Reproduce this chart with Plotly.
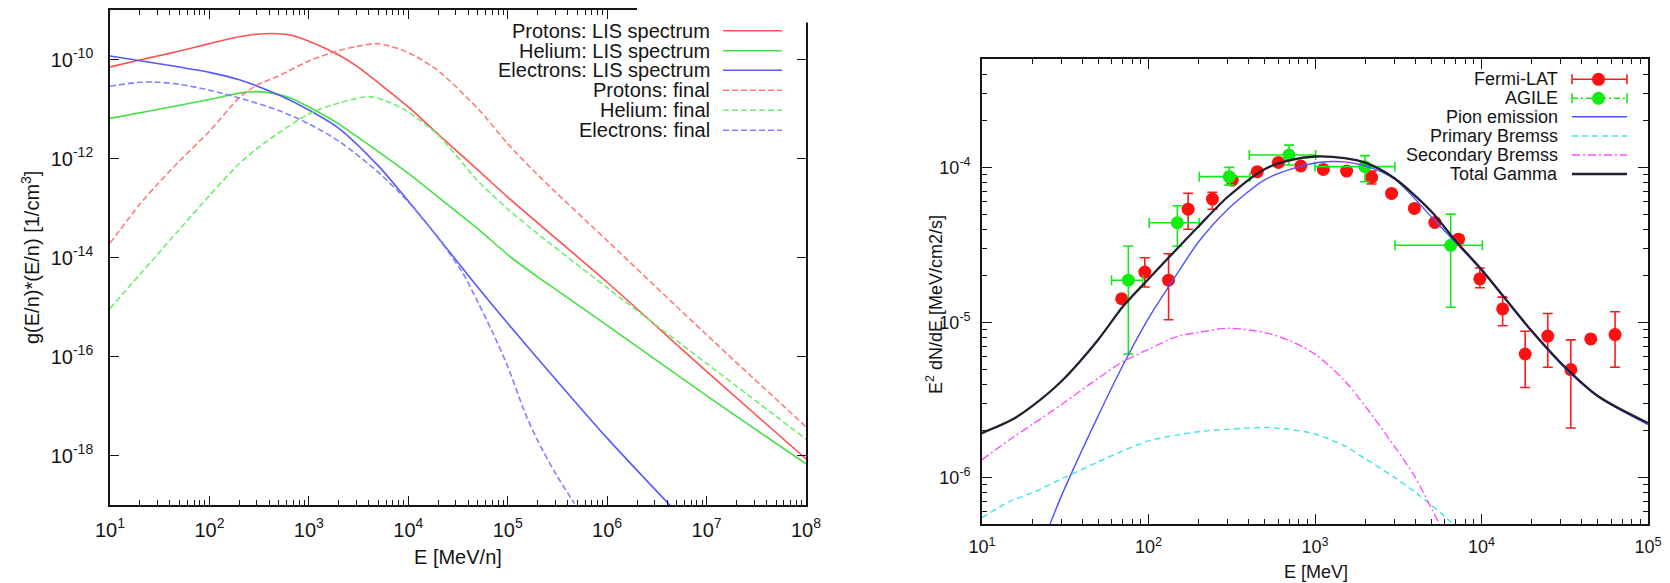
import plotly.graph_objects as go

W, H = 1670, 583

# ---------------- left panel: particle spectra, g(E/n)*(E/n) [1/cm^3] ----------------
E_p_lis = [10, 20, 30, 50, 100, 200, 300, 500, 700, 1e3, 2e3, 3e3, 5e3, 1e4, 2e4, 5e4, 1e5, 1e6, 1e7, 1e8]
g_p_lis = [7.08e-11, 9.77e-11, 1.175e-10, 1.48e-10, 2.09e-10, 2.88e-10, 3.24e-10, 3.31e-10, 3.02e-10,
           2.34e-10, 1.23e-10, 7.41e-11, 3.39e-11, 1.10e-11, 3.09e-12, 5.89e-13, 1.66e-13, 3.16e-15,
           5.01e-17, 8.51e-19]

E_he_lis = [10, 30, 100, 200, 300, 500, 700, 1e3, 2e3, 3e3, 5e3, 1e4, 2e4, 5e4, 1.1e5, 2e5, 1e6, 1e7, 1e8]
g_he_lis = [6.46e-12, 9.77e-12, 1.55e-11, 2.09e-11, 2.24e-11, 1.95e-11, 1.58e-11, 1.10e-11, 5.01e-12,
            2.82e-12, 1.38e-12, 5.01e-13, 1.66e-13, 3.80e-14, 9.77e-15, 4.07e-15, 4.27e-16, 1.62e-17,
            6.76e-19]

E_e_lis = [10, 30, 100, 200, 500, 1e3, 2e3, 5e3, 1e4, 2e4, 5e4, 1e5, 3e5, 1e6, 4.5e6]
g_e_lis = [1.175e-10, 8.32e-11, 5.50e-11, 3.89e-11, 1.91e-11, 9.55e-12, 4.07e-12, 7.08e-13, 1.38e-13,
           2.51e-14, 2.51e-15, 4.68e-16, 3.55e-17, 2.24e-18, 8.91e-20]

E_p_fin = [10, 20, 30, 50, 100, 200, 300, 500, 1e3, 2e3, 3e3, 5e3, 1e4, 2e4, 5e4, 1e5, 2e5, 1e6, 1e7, 1e8]
g_p_fin = [1.95e-14, 1.20e-13, 3.02e-13, 8.91e-13, 3.55e-12, 1.70e-11, 3.02e-11, 4.68e-11, 9.33e-11,
           1.51e-10, 1.82e-10, 2.09e-10, 1.38e-10, 5.89e-11, 1.02e-11, 2.00e-12, 4.68e-13, 2.19e-14,
           2.75e-16, 3.80e-18]

E_he_fin = [10, 20, 30, 50, 100, 200, 300, 500, 1e3, 2e3, 4e3, 6e3, 1e4, 2e4, 5e4, 1e5, 2e5, 1e6, 1e7, 1e8]
g_he_fin = [9.33e-16, 4.57e-15, 1.15e-14, 3.72e-14, 1.78e-13, 7.94e-13, 1.58e-12, 3.31e-12, 7.94e-12,
            1.32e-11, 1.78e-11, 1.45e-11, 8.71e-12, 2.95e-12, 3.55e-13, 9.55e-14, 3.02e-14, 2.45e-15,
            7.24e-17, 2.14e-18]

E_e_fin = [10, 20, 30, 50, 100, 200, 500, 1e3, 2e3, 5e3, 1e4, 2e4, 3.5e4, 5e4, 7e4, 1e5, 1.5e5, 2e5, 3e5, 4.7e5]
g_e_fin = [2.88e-11, 3.47e-11, 3.47e-11, 3.16e-11, 2.40e-11, 1.66e-11, 9.33e-12, 5.01e-12, 2.24e-12,
           5.25e-13, 1.32e-13, 2.45e-14, 5.01e-15, 1.26e-15, 3.16e-16, 6.31e-17, 7.08e-18, 2.0e-18,
           4.47e-19, 1.07e-19]

left_series = [
    ("Protons: LIS spectrum", E_p_lis, g_p_lis, "#ff5252", "solid"),
    ("Helium: LIS spectrum", E_he_lis, g_he_lis, "#45e045", "solid"),
    ("Electrons: LIS spectrum", E_e_lis, g_e_lis, "#5858ff", "solid"),
    ("Protons: final", E_p_fin, g_p_fin, "#ff7a7a", "6px,3px"),
    ("Helium: final", E_he_fin, g_he_fin, "#70ee70", "6px,3px"),
    ("Electrons: final", E_e_fin, g_e_fin, "#8080ff", "6px,3px"),
]

left_xtick_vals = [1e1, 1e2, 1e3, 1e4, 1e5, 1e6, 1e7, 1e8]
left_xtick_text = ["10<sup>1</sup>", "10<sup>2</sup>", "10<sup>3</sup>", "10<sup>4</sup>",
                   "10<sup>5</sup>", "10<sup>6</sup>", "10<sup>7</sup>", "10<sup>8</sup>"]
left_ytick_vals = [1e-10, 1e-12, 1e-14, 1e-16, 1e-18]
left_ytick_text = ["10<sup>-10</sup>", "10<sup>-12</sup>", "10<sup>-14</sup>", "10<sup>-16</sup>",
                   "10<sup>-18</sup>"]

# ---------------- right panel: gamma-ray SED ----------------
fermi_E = [69, 95, 132, 173, 242, 318, 450, 603, 822, 1122, 1549, 2188, 2884, 3954, 5248, 7278, 9772,
           1.34e4, 1.83e4, 2.5e4, 3.44e4, 4.53e4, 6.34e4]
fermi_F = [1.42e-5, 2.11e-5, 1.87e-5, 5.37e-5, 6.24e-5, 8.27e-5, 9.38e-5, 1.076e-4, 1.02e-4, 9.7e-5,
           9.46e-5, 8.61e-5, 6.79e-5, 5.43e-5, 4.41e-5, 3.44e-5, 1.91e-5, 1.22e-5, 6.25e-6, 8.15e-6,
           4.96e-6, 7.82e-6, 8.34e-6]
fermi_err_hi = [0, 0.50e-5, 0.90e-5, 1.43e-5, 0.66e-5, 0.25e-5, 0.3e-5, 0.35e-5, 0.35e-5, 0.5e-5,
                0.4e-5, 0.85e-5, 0.3e-5, 0.25e-5, 0.2e-5, 0.2e-5, 0.33e-5, 0.235e-5, 2.52e-6, 3.25e-6,
                2.75e-6, 0, 3.36e-6]
fermi_err_lo = [0, 0.42e-5, 0.83e-5, 1.38e-5, 0.87e-5, 0.25e-5, 0.3e-5, 0.35e-5, 0.35e-5, 0.5e-5,
                0.4e-5, 0.81e-5, 0.3e-5, 0.25e-5, 0.2e-5, 0.2e-5, 0.24e-5, 0.27e-5, 2.45e-6, 3.02e-6,
                2.88e-6, 0, 3.21e-6]

agile_E = [75.7, 149, 305.5, 698, 1995, 6530]
agile_F = [1.87e-5, 4.39e-5, 8.71e-5, 1.2e-4, 1.01e-4, 3.14e-5]
agile_Eerr_lo = [15.7, 48, 103.5, 295, 995, 3510]
agile_Eerr_hi = [16.6, 53, 101.5, 311, 1025, 3586]
agile_Ferr_hi = [1.24e-5, 1.26e-5, 1.29e-5, 1.9e-5, 1.8e-5, 1.85e-5]
agile_Ferr_lo = [1.245e-5, 1.29e-5, 1.03e-5, 1.65e-5, 2.03e-5, 1.89e-5]

pion_E = [20, 25, 30, 50, 70, 100, 150, 200, 300, 500, 700, 1e3, 1259, 1500, 2000, 3000, 5000, 7000,
          1e4, 2e4, 3e4, 5e4, 1e5]
pion_F = [2.63e-7, 4.68e-7, 7.59e-7, 2.51e-6, 5.25e-6, 1.06e-5, 2.09e-5, 3.31e-5, 5.37e-5, 8.32e-5,
          9.66e-5, 1.067e-4, 1.09e-4, 1.084e-4, 1.023e-4, 8.41e-5, 4.79e-5, 3.27e-5, 2.16e-5, 8.71e-6,
          5.37e-6, 3.31e-6, 2.19e-6]

model_E = [10, 15, 20, 30, 50, 70, 100, 150, 200, 300, 500, 700, 1e3, 1500, 2000, 3000, 4000, 5000,
           6000, 7000]
prim_brems_F = [5.50e-7, 7.08e-7, 7.94e-7, 9.77e-7, 1.26e-6, 1.48e-6, 1.72e-6, 1.88e-6, 1.97e-6,
                2.04e-6, 2.10e-6, 2.04e-6, 1.905e-6, 1.60e-6, 1.32e-6, 1.0e-6, 8.0e-7, 6.61e-7,
                5.6e-7, 4.79e-7]
sec_brems_F = [1.30e-6, 1.78e-6, 2.19e-6, 2.95e-6, 4.37e-6, 5.56e-6, 6.70e-6, 8.13e-6, 8.61e-6,
               9.16e-6, 8.59e-6, 7.64e-6, 6.24e-6, 4.22e-6, 2.88e-6, 1.585e-6, 1.0e-6, 6.31e-7,
               4.27e-7, 2.9e-7]

total_E = [10, 15, 20, 30, 50, 70, 100, 150, 200, 300, 500, 700, 1e3, 1500, 2000, 3000, 5000, 7000,
           1e4, 2e4, 3e4, 5e4, 1e5]
total_F = [1.93e-6, 2.34e-6, 2.88e-6, 4.17e-6, 7.76e-6, 1.26e-5, 1.905e-5, 3.02e-5, 4.17e-5,
           6.46e-5, 9.77e-5, 1.109e-4, 1.175e-4, 1.148e-4, 1.072e-4, 8.51e-5, 5.19e-5, 3.35e-5,
           2.19e-5, 8.81e-6, 5.47e-6, 3.35e-6, 2.24e-6]

right_xtick_vals = [1e1, 1e2, 1e3, 1e4, 1e5]
right_xtick_text = ["10<sup>1</sup>", "10<sup>2</sup>", "10<sup>3</sup>", "10<sup>4</sup>", "10<sup>5</sup>"]
right_ytick_vals = [1e-6, 1e-5, 1e-4]
right_ytick_text = ["10<sup>-6</sup>", "10<sup>-5</sup>", "10<sup>-4</sup>"]


def px(x):
    return x / W


def py(y):
    return 1 - y / H


def minor_vals(lo_exp, hi_exp):
    return [k * 10.0 ** d for d in range(lo_exp, hi_exp) for k in range(2, 10)]


FONT = "Liberation Sans"
INK = "#151515"

fig = go.Figure()

# left panel curves
for name, xs, ys, col, dash in left_series:
    fig.add_trace(go.Scatter(x=xs, y=ys, mode="lines", name=name, xaxis="x", yaxis="y",
                             line=dict(color=col, width=1.6, dash=dash, shape="spline", smoothing=0.8),
                             showlegend=False))

# right panel: data points
fig.add_trace(go.Scatter(
    x=fermi_E, y=fermi_F, mode="markers", name="Fermi-LAT", xaxis="x2", yaxis="y2", showlegend=False,
    marker=dict(color="#ff1010", size=13),
    error_y=dict(type="data", symmetric=False, array=fermi_err_hi, arrayminus=fermi_err_lo,
                 color="#ff1a1a", thickness=1.6, width=5)))
fig.add_trace(go.Scatter(
    x=agile_E, y=agile_F, mode="markers", name="AGILE", xaxis="x2", yaxis="y2", showlegend=False,
    marker=dict(color="#10ee10", size=13),
    error_x=dict(type="data", symmetric=False, array=agile_Eerr_hi, arrayminus=agile_Eerr_lo,
                 color="#19e619", thickness=1.6, width=5),
    error_y=dict(type="data", symmetric=False, array=agile_Ferr_hi, arrayminus=agile_Ferr_lo,
                 color="#19e619", thickness=1.6, width=5)))

right_models = [
    ("Pion emission", pion_E, pion_F, "#5050ff", "solid", 1.4),
    ("Primary Bremss", model_E, prim_brems_F, "#3ee2f0", "6px,4px", 1.4),
    ("Secondary Bremss", model_E, sec_brems_F, "#ff4dff", "8px,3px,2px,3px", 1.4),
    ("Total Gamma", total_E, total_F, "#202030", "solid", 2.3),
]
for name, xs, ys, col, dash, w in right_models:
    fig.add_trace(go.Scatter(x=xs, y=ys, mode="lines", name=name, xaxis="x2", yaxis="y2",
                             line=dict(color=col, width=w, dash=dash, shape="spline", smoothing=0.8),
                             showlegend=False))

axis_common = dict(type="log", showline=True, linecolor=INK, linewidth=1.6, mirror="ticks",
                   ticks="inside", tickcolor=INK, tickwidth=1.3, showgrid=False, zeroline=False,
                   automargin=False)

fig.update_layout(
    template="none",
    width=W, height=H, margin=dict(l=0, r=0, t=0, b=0, pad=0), autosize=False,
    paper_bgcolor="white", plot_bgcolor="white", showlegend=False,
    xaxis=dict(**axis_common, domain=[px(110), px(806)], range=[1, 8], anchor="y",
               tickvals=left_xtick_vals, ticktext=left_xtick_text, ticklen=9,
               tickfont=dict(family=FONT, size=20, color=INK), ticklabelstandoff=6,
               minor=dict(tickvals=minor_vals(1, 8), ticks="inside", ticklen=5, tickcolor=INK, tickwidth=1.2)),
    yaxis=dict(**axis_common, domain=[py(505), py(10)], range=[-19, -9], anchor="x",
               tickvals=left_ytick_vals, ticktext=left_ytick_text, ticklen=9,
               tickfont=dict(family=FONT, size=20, color=INK), ticklabelstandoff=11),
    xaxis2=dict(**axis_common, domain=[px(982), px(1648)], range=[1, 5], anchor="y2",
                tickvals=right_xtick_vals, ticktext=right_xtick_text, ticklen=10,
                tickfont=dict(family=FONT, size=18, color=INK), ticklabelstandoff=6,
                minor=dict(tickvals=minor_vals(1, 5), ticks="inside", ticklen=5, tickcolor=INK, tickwidth=1.2)),
    yaxis2=dict(**axis_common, domain=[py(524), py(59)], range=[-6.30103, -3.30103], anchor="x2",
                tickvals=right_ytick_vals, ticktext=right_ytick_text, ticklen=10,
                tickfont=dict(family=FONT, size=18, color=INK), ticklabelstandoff=6,
                minor=dict(tickvals=minor_vals(-7, -3), ticks="inside", ticklen=5, tickcolor=INK, tickwidth=1.2)),
)

annotations = []
shapes = []

# axis titles
annotations += [
    dict(text="E [MeV/n]", x=px(458), y=py(557), xref="paper", yref="paper", showarrow=False,
         font=dict(family=FONT, size=20, color=INK), xanchor="center", yanchor="middle"),
    dict(text="g(E/n)*(E/n) [1/cm<sup>3</sup>]", x=px(31), y=py(258), xref="paper", yref="paper",
         showarrow=False, textangle=-90, font=dict(family=FONT, size=20, color=INK),
         xanchor="center", yanchor="middle"),
    dict(text="E [MeV]", x=px(1316), y=py(572), xref="paper", yref="paper", showarrow=False,
         font=dict(family=FONT, size=18, color=INK), xanchor="center", yanchor="middle"),
    dict(text="E<sup>2</sup> dN/dE [MeV/cm2/s]", x=px(934), y=py(305), xref="paper", yref="paper",
         showarrow=False, textangle=-90, font=dict(family=FONT, size=18, color=INK),
         xanchor="center", yanchor="middle"),
]

# the frame corner behind the left key is left open
shapes.append(dict(type="rect", xref="paper", yref="paper", x0=px(637), x1=px(816), y0=py(22.5), y1=py(0),
                   fillcolor="white", line=dict(width=0), layer="above"))

# left key: right-aligned labels with line samples to their right
left_rows = [30.7, 50.7, 70.3, 90.3, 110.2, 130.2]
for (name, _, _, col, dash), ry in zip(left_series, left_rows):
    annotations.append(dict(text=name, x=px(712), y=py(ry), xref="paper", yref="paper", showarrow=False,
                            xanchor="right", yanchor="middle", font=dict(family=FONT, size=20, color=INK)))
    shapes.append(dict(type="line", xref="paper", yref="paper", x0=px(723), x1=px(782), y0=py(ry), y1=py(ry),
                       line=dict(color=col, width=1.6, dash=dash), layer="above"))

# right key
right_rows = [79.3, 98.3, 116.7, 136.0, 155.0, 174.0]
right_names = ["Fermi-LAT", "AGILE"] + [m[0] for m in right_models]
for name, ry in zip(right_names, right_rows):
    annotations.append(dict(text=name, x=px(1560), y=py(ry), xref="paper", yref="paper", showarrow=False,
                            xanchor="right", yanchor="middle", font=dict(family=FONT, size=18, color=INK)))

for ry, col, dash in [(right_rows[0], "#ff1a1a", "solid"), (right_rows[1], "#19e619", "6px,3px,2px,3px")]:
    shapes.append(dict(type="line", xref="paper", yref="paper", x0=px(1572), x1=px(1627), y0=py(ry), y1=py(ry),
                       line=dict(color=col, width=1.6, dash=dash), layer="above"))
    for cx in (1572, 1627):
        shapes.append(dict(type="line", xref="paper", yref="paper", x0=px(cx), x1=px(cx),
                           y0=py(ry - 5), y1=py(ry + 5), line=dict(color=col, width=1.6), layer="above"))
    shapes.append(dict(type="circle", xref="paper", yref="paper", xsizemode="pixel", ysizemode="pixel",
                       xanchor=px(1598.5), yanchor=py(ry), x0=-6.5, x1=6.5, y0=-6.5, y1=6.5,
                       fillcolor="#ff1010" if col == "#ff1a1a" else "#10ee10", line=dict(width=0),
                       layer="above"))

for (name, _, _, col, dash, w), ry in zip(right_models, right_rows[2:]):
    shapes.append(dict(type="line", xref="paper", yref="paper", x0=px(1572), x1=px(1627), y0=py(ry), y1=py(ry),
                       line=dict(color=col, width=w, dash=dash), layer="above"))

fig.update_layout(annotations=annotations, shapes=shapes)

fig.write_html("out.html")
